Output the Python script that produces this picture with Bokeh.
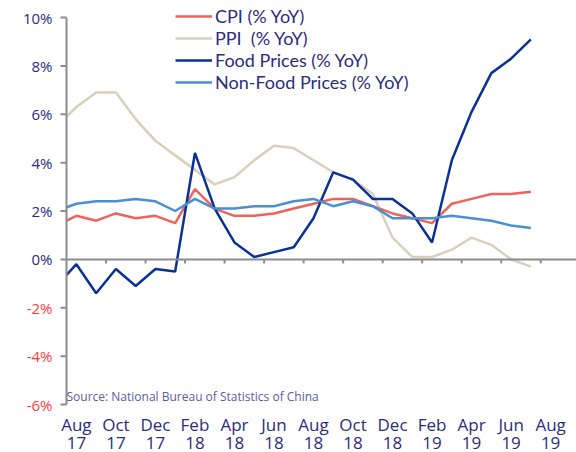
from bokeh.plotting import figure
from bokeh.models import Range1d, Label, Legend, LegendItem, ColumnDataSource
from bokeh.core.properties import value
from bokeh.embed import file_html
from bokeh.resources import INLINE

# Months: Jul 17 .. Jul 19 (index -1 .. 23, Aug 17 = 0)
months = ["Jul 17", "Aug 17", "Sep 17", "Oct 17", "Nov 17", "Dec 17",
          "Jan 18", "Feb 18", "Mar 18", "Apr 18", "May 18", "Jun 18",
          "Jul 18", "Aug 18", "Sep 18", "Oct 18", "Nov 18", "Dec 18",
          "Jan 19", "Feb 19", "Mar 19", "Apr 19", "May 19", "Jun 19", "Jul 19"]
cpi = [1.4, 1.8, 1.6, 1.9, 1.7, 1.8, 1.5, 2.9, 2.1, 1.8, 1.8, 1.9, 2.1,
       2.3, 2.5, 2.5, 2.2, 1.9, 1.7, 1.5, 2.3, 2.5, 2.7, 2.7, 2.8]
ppi = [5.5, 6.3, 6.9, 6.9, 5.8, 4.9, 4.3, 3.7, 3.1, 3.4, 4.1, 4.7, 4.6,
       4.1, 3.6, 3.3, 2.7, 0.9, 0.1, 0.1, 0.4, 0.9, 0.6, 0.0, -0.3]
food = [-1.1, -0.2, -1.4, -0.4, -1.1, -0.4, -0.5, 4.4, 2.1, 0.7, 0.1, 0.3, 0.5,
        1.7, 3.6, 3.3, 2.5, 2.5, 1.9, 0.7, 4.1, 6.1, 7.7, 8.3, 9.1]
nonfood = [2.0, 2.3, 2.4, 2.4, 2.5, 2.4, 2.0, 2.5, 2.1, 2.1, 2.2, 2.2, 2.4,
           2.5, 2.2, 2.4, 2.2, 1.7, 1.7, 1.7, 1.8, 1.7, 1.6, 1.4, 1.3]
x_idx = list(range(-1, len(months) - 1))

tick_month = ["Aug", "Oct", "Dec", "Feb", "Apr", "Jun",
              "Aug", "Oct", "Dec", "Feb", "Apr", "Jun", "Aug"]
tick_year = ["17", "17", "17", "18", "18", "18",
             "18", "18", "18", "19", "19", "19", "19"]
y_ticks = [-6, -4, -2, 0, 2, 4, 6, 8, 10]

NAVY = "#2d2b7d"
RED = "#ff3b3b"
GRAY = "#8c8c8c"
FONT = "Open Sans"

# geometry (pixels)
W, H = 576, 452
AX_X = 66            # pixel of the y-axis line
TOP_PX, BOT_PX = 17, 404   # pixels of the top and bottom y ticks
PPM = 19.76          # pixels per month
YMIN, YMAX = min(y_ticks), max(y_ticks)
PPU = (BOT_PX - TOP_PX) / (YMAX - YMIN)
XA = -0.5            # data x of the y-axis line

x_start = XA - AX_X / PPM
x_end = XA + (W - AX_X) / PPM
y_end = YMAX + TOP_PX / PPU
y_start = YMIN - (H - BOT_PX) / PPU

p = figure(frame_width=W, frame_height=H, output_backend="svg",
           toolbar_location=None,
           x_range=Range1d(x_start, x_end), y_range=Range1d(y_start, y_end),
           min_border=0, x_axis_location=None, y_axis_location=None)
p.outline_line_color = None
p.grid.grid_line_color = None

# ---- series ----
src = ColumnDataSource(dict(x=x_idx, cpi=cpi, ppi=ppi, food=food, nonfood=nonfood))
r_ppi = p.line("x", "ppi", source=src, line_color="#d9d0bc", line_width=2.5)
r_cpi = p.line("x", "cpi", source=src, line_color="#f0635d", line_width=2.5)
r_food = p.line("x", "food", source=src, line_color="#0a3296", line_width=2.5)
r_non = p.line("x", "nonfood", source=src, line_color="#4a8fd2", line_width=2.5)

# mask: the plotting area starts at the y-axis
p.quad(left=[x_start], right=[XA], bottom=[y_start], top=[y_end],
       fill_color="white", line_color=None)

# ---- y axis (drawn) ----
n_y = len(y_ticks)
p.segment(x0=[XA], y0=[YMIN], x1=[XA], y1=[YMAX], line_color=GRAY, line_width=2)
p.segment(x0=[XA - 6 / PPM] * n_y, y0=y_ticks, x1=[XA] * n_y, y1=y_ticks,
          line_color=GRAY, line_width=2)
ysrc = ColumnDataSource(dict(
    x=[XA - 14 / PPM] * n_y, y=y_ticks,
    t=[f"{t}%" for t in y_ticks],
    c=[NAVY if t >= 0 else RED for t in y_ticks]))
p.text(x="x", y="y", text="t", text_color="c", source=ysrc,
       text_align="right", text_baseline="middle",
       text_font=value(FONT), text_font_size="15px")

# ---- zero line with tick marks ----
tick_pos = [2 * i for i in range(len(tick_month))]
tick_marks = [XA + 2 * i for i in range(1, len(tick_month))]
p.segment(x0=[XA], y0=[0], x1=[x_end], y1=[0], line_color=GRAY, line_width=2)
p.segment(x0=tick_marks, y0=[0] * len(tick_marks), x1=tick_marks,
          y1=[-4 / PPU] * len(tick_marks), line_color=GRAY, line_width=2)

# ---- x labels (two rows) ----
p.text(x=tick_pos, y=[YMIN - 20 / PPU] * len(tick_pos), text=tick_month,
       text_align="center", text_baseline="middle", text_color=NAVY,
       text_font=value(FONT), text_font_size="17px")
p.text(x=tick_pos, y=[YMIN - 38 / PPU] * len(tick_pos), text=tick_year,
       text_align="center", text_baseline="middle", text_color=NAVY,
       text_font=value(FONT), text_font_size="17px")

legend = Legend(items=[
    LegendItem(label="CPI (% YoY)", renderers=[r_cpi]),
    LegendItem(label="PPI  (% YoY)", renderers=[r_ppi]),
    LegendItem(label="Food Prices (% YoY)", renderers=[r_food]),
    LegendItem(label="Non-Food Prices (% YoY)", renderers=[r_non]),
], location=(175, H - 93))
legend.background_fill_alpha = 0
legend.border_line_color = None
legend.padding = 0
legend.margin = 0
legend.spacing = 0
legend.glyph_width = 37
legend.glyph_height = 20
legend.label_height = 20
legend.label_standoff = 3
legend.label_text_color = NAVY
legend.label_text_font = "Lato"
legend.label_text_font_size = "18px"
p.add_layout(legend)

p.add_layout(Label(x=XA, y=YMIN, y_offset=0, text="Source: National Bureau of Statistics of China",
                   text_align="left", text_baseline="bottom", text_color="#5b5ba8",
                   text_font=FONT, text_font_size="12px"))

open("out.html", "w").write(file_html(p, INLINE))
